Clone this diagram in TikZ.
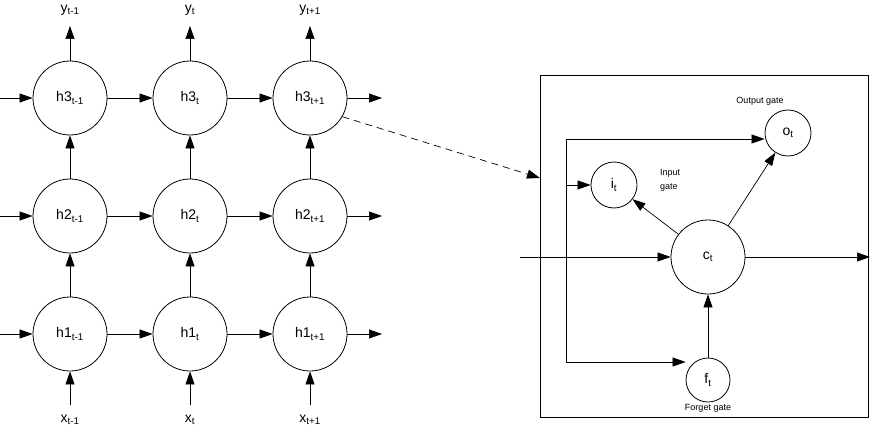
\documentclass[tikz,border=0pt]{standalone}
\usepackage{fontspec}
\setmainfont{Liberation Sans}
\usetikzlibrary{arrows.meta}
\begin{document}
\begin{tikzpicture}[x=1pt,y=-1pt,
  cell/.style={circle,draw,line width=0.8pt,minimum size=74pt,inner sep=0pt,font=\fontsize{14}{16}\selectfont},
  gate/.style={circle,draw,line width=0.8pt,minimum size=46pt,inner sep=0pt,font=\fontsize{14}{16}\selectfont},
  lbl/.style={font=\fontsize{14}{16}\selectfont,inner sep=0pt},
  small/.style={font=\fontsize{9}{11}\selectfont,inner sep=0pt,align=center},
  arr/.style={-{Triangle[length=13pt,width=9pt]},line width=0.7pt},
  ln/.style={line width=0.7pt}]
\useasboundingbox (0,0) rectangle (872,433);
% grid
\foreach \c/\x/\s in {a/70/{t-1},b/190/t,c/310/{t+1}}{
  \node[cell] (h3\c) at (\x,98) {h3\textsubscript{\s}};
  \node[cell] (h2\c) at (\x,216) {h2\textsubscript{\s}};
  \node[cell] (h1\c) at (\x,334) {h1\textsubscript{\s}};
  \node[lbl] (y\c) at (\x,10) {y\textsubscript{\s}};
  \node[lbl] (x\c) at (\x,420) {x\textsubscript{\s}};
  \coordinate (yt\c) at (\x,26);
  \coordinate (xb\c) at (\x,405);
  \draw[arr] (h3\c) -- (yt\c);
  \draw[arr] (xb\c) -- (h1\c);
  \draw[arr] (h1\c) -- (h2\c);
  \draw[arr] (h2\c) -- (h3\c);
}
\foreach \r/\y in {1/334,2/216,3/98}{
  \coordinate (L\r) at (0,\y);
  \coordinate (R\r) at (382,\y);
  \draw[arr] (L\r) -- (h\r a);
  \draw[arr] (h\r a) -- (h\r b);
  \draw[arr] (h\r b) -- (h\r c);
  \draw[arr] (h\r c) -- (R\r);
}
% LSTM box
\node[draw,line width=0.7pt,minimum width=328pt,minimum height=342pt,inner sep=0pt] (box) at (704,246) {};
\node[cell] (c) at (708,257) {c\textsubscript{t}};
\node[gate] (i) at (614,185) {i\textsubscript{t}};
\node[gate] (o) at (788,133) {o\textsubscript{t}};
\node[gate,minimum size=44pt] (f) at (708,380) {f\textsubscript{t}};
\node[small] at (760,101) {Output gate};
\node[small,align=left] at (670,180) {Input\\[3pt]gate};
\node[small] at (708,408) {Forget gate};
\coordinate (in) at (520,257);
\coordinate (out) at (870,257);
\coordinate (v1) at (566,139);
\coordinate (v2) at (566,362);
\coordinate (vi) at (566,185);
\draw[arr] (in) -- (c);
\draw[arr] (c) -- (out);
\draw[ln] (v1) -- (v2);
\draw[arr] (v1) -- (o.west |- v1);
\draw[arr] (vi) -- (i);
\draw[arr] (v2) -- (f.west |- v2);
\draw[arr] (c) -- (i);
\draw[arr] (c) -- (o);
\draw[arr] (f) -- (c);
\coordinate (dend) at (540,178);
\draw[arr,dash pattern=on 7pt off 5pt] (h3c.-30) -- (dend);
\end{tikzpicture}
\end{document}
